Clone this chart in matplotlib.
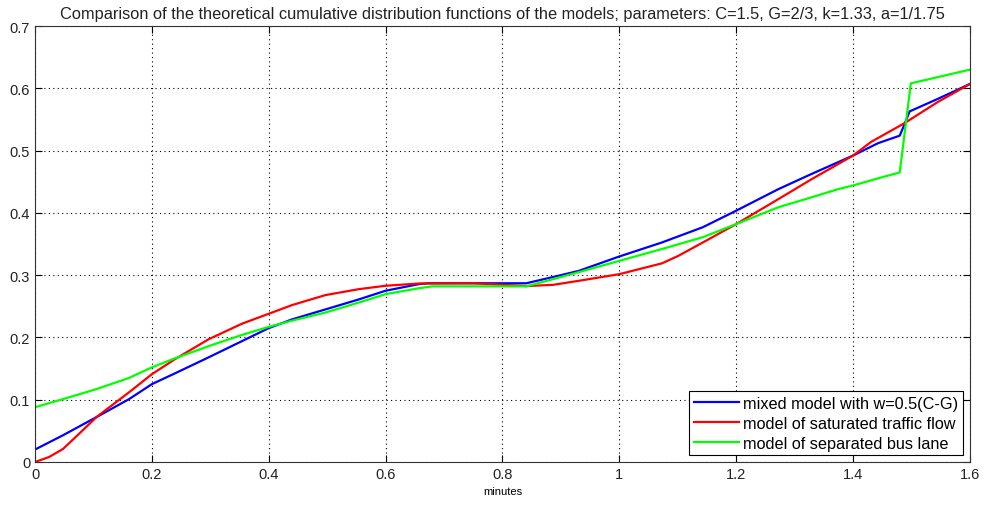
import numpy as np
import matplotlib
matplotlib.use("Agg")
import matplotlib.pyplot as plt

plt.rcParams['font.family'] = ['Liberation Sans', 'DejaVu Sans']

# mixed model with w=0.5(C-G)
x_mixed = [0, 0.048, 0.105, 0.161, 0.2, 0.241, 0.297, 0.354, 0.4, 0.44, 0.497, 0.554, 0.6, 0.657, 0.674,
           0.841, 0.9, 0.931, 1.0, 1.073, 1.143, 1.2, 1.272, 1.329, 1.4, 1.443, 1.48, 1.488, 1.497, 1.545, 1.6]
y_mixed = [0.020, 0.043, 0.072, 0.101, 0.125, 0.143, 0.168, 0.194, 0.215, 0.229, 0.245, 0.261, 0.275, 0.2856, 0.287,
           0.287, 0.300, 0.307, 0.330, 0.3525, 0.377, 0.4035, 0.438, 0.4625, 0.492, 0.512, 0.524, 0.542, 0.563, 0.583, 0.607]

# model of saturated traffic flow
x_sat = [0, 0.024, 0.048, 0.075, 0.105, 0.161, 0.2, 0.241, 0.297, 0.354, 0.4, 0.44, 0.497, 0.554, 0.6, 0.657, 0.75,
         0.841, 0.887, 0.931, 1.0, 1.073, 1.101, 1.143, 1.2, 1.272, 1.329, 1.4, 1.431, 1.488, 1.545, 1.6]
y_sat = [0.0, 0.008, 0.021, 0.045, 0.072, 0.112, 0.141, 0.166, 0.197, 0.222, 0.238, 0.252, 0.268, 0.2775, 0.283, 0.2866, 0.287,
         0.2825, 0.2845, 0.291, 0.3016, 0.319, 0.331, 0.3525, 0.382, 0.422, 0.454, 0.492, 0.514, 0.544, 0.578, 0.607]

# model of separated bus lane
x_bus = [0, 0.048, 0.105, 0.161, 0.2, 0.241, 0.297, 0.354, 0.4, 0.44, 0.497, 0.554, 0.6, 0.657, 0.68,
         0.841, 0.9, 0.931, 1.0, 1.073, 1.143, 1.2, 1.272, 1.329, 1.374, 1.4, 1.443, 1.48, 1.499, 1.6]
y_bus = [0.088, 0.101, 0.117, 0.135, 0.152, 0.167, 0.186, 0.204, 0.217, 0.227, 0.240, 0.256, 0.2695, 0.279, 0.282,
         0.282, 0.297, 0.305, 0.323, 0.342, 0.361, 0.382, 0.409, 0.425, 0.438, 0.444, 0.4555, 0.465, 0.608, 0.630]

labels = ['mixed model with w=0.5(C-G)', 'model of saturated traffic flow', 'model of separated bus lane']

fig = plt.figure(figsize=(9.84, 5.06), dpi=100)
ax = fig.add_axes([0.0356, 0.085, 0.950, 0.8615])

ax.plot(x_mixed, y_mixed, color=(0, 0, 1), lw=1.6, label=labels[0])
ax.plot(x_sat, y_sat, color=(1, 0, 0), lw=1.6, label=labels[1])
ax.plot(x_bus, y_bus, color=(0, 1, 0), lw=1.6, label=labels[2])

ax.set_xlim(0, 1.6)
ax.set_ylim(0, 0.7)
ax.set_xticks(np.arange(0, 1.61, 0.2))
ax.set_xticklabels(['0', '0.2', '0.4', '0.6', '0.8', '1', '1.2', '1.4', '1.6'])
ax.set_yticks(np.arange(0, 0.71, 0.1))
ax.set_yticklabels(['0', '0.1', '0.2', '0.3', '0.4', '0.5', '0.6', '0.7'])
ax.tick_params(direction='in', labelsize=10.5, length=5, top=True, right=True, labelcolor='#222222')
ax.grid(True, color='black', linestyle=(0, (1, 3)), linewidth=0.8)
for s in ax.spines.values():
    s.set_color('#333333')

ax.set_title('Comparison of the theoretical cumulative distribution functions of the models; parameters: C=1.5, G=2/3, k=1.33, a=1/1.75',
             fontsize=11.8, pad=6, color='#222222')
ax.set_xlabel('minutes', fontsize=8, labelpad=4)

leg = ax.legend(loc='lower right', fontsize=11.7, fancybox=False, framealpha=1, edgecolor='black',
                borderaxespad=0.4, handlelength=2.8, handletextpad=0.25, labelspacing=0.3, borderpad=0.3)
leg.get_frame().set_linewidth(0.8)

fig.savefig('out.png', dpi=100)
